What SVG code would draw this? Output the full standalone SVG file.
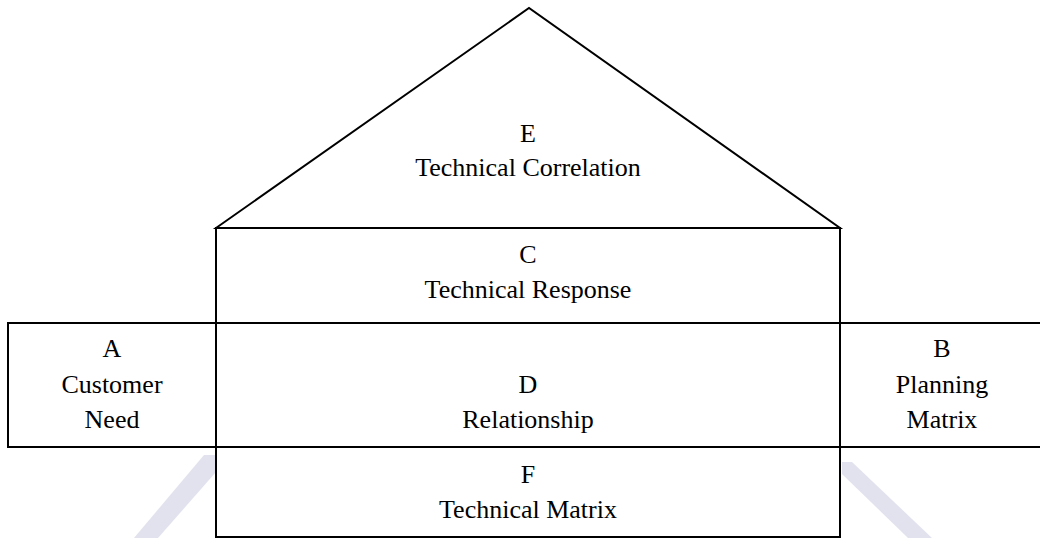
<svg xmlns="http://www.w3.org/2000/svg" width="1040" height="538" viewBox="0 0 1040 538">
<style>
.box{fill:none;stroke:#000;stroke-width:2}
text{font-family:'Liberation Serif','Times New Roman','DejaVu Serif',serif;font-size:26px;fill:#000;text-anchor:middle}
.wm{fill:#e2e2ef}
</style>
<rect width="1040" height="538" fill="#fff"/>
<g id="watermark">
<polygon class="wm" points="204,455 216,455 216,472 158,538 134,538"/>
<polygon class="wm" points="842,462 852,462 932,538 908,538 842,474"/>
</g>
<g id="E">
<polygon class="box" points="216,228 529,8 840,228"/>
<text x="528" y="142">E</text>
<text x="528" y="176">Technical Correlation</text>
</g>
<g id="C">
<rect class="box" x="216" y="228" width="624" height="95"/>
<text x="528" y="263">C</text>
<text x="528" y="298">Technical Response</text>
</g>
<g id="A">
<rect class="box" x="8" y="323" width="208" height="124"/>
<text x="112" y="357">A</text>
<text x="112" y="393">Customer</text>
<text x="112" y="428">Need</text>
</g>
<g id="D">
<rect class="box" x="216" y="323" width="624" height="124"/>
<text x="528" y="393">D</text>
<text x="528" y="428">Relationship</text>
</g>
<g id="B">
<rect class="box" x="840" y="323" width="204" height="124"/>
<text x="942" y="357">B</text>
<text x="942" y="393">Planning</text>
<text x="942" y="428">Matrix</text>
</g>
<g id="F">
<rect class="box" x="216" y="447" width="624" height="90"/>
<text x="528" y="483">F</text>
<text x="528" y="518">Technical Matrix</text>
</g>
<g id="connectors"></g>
</svg>
